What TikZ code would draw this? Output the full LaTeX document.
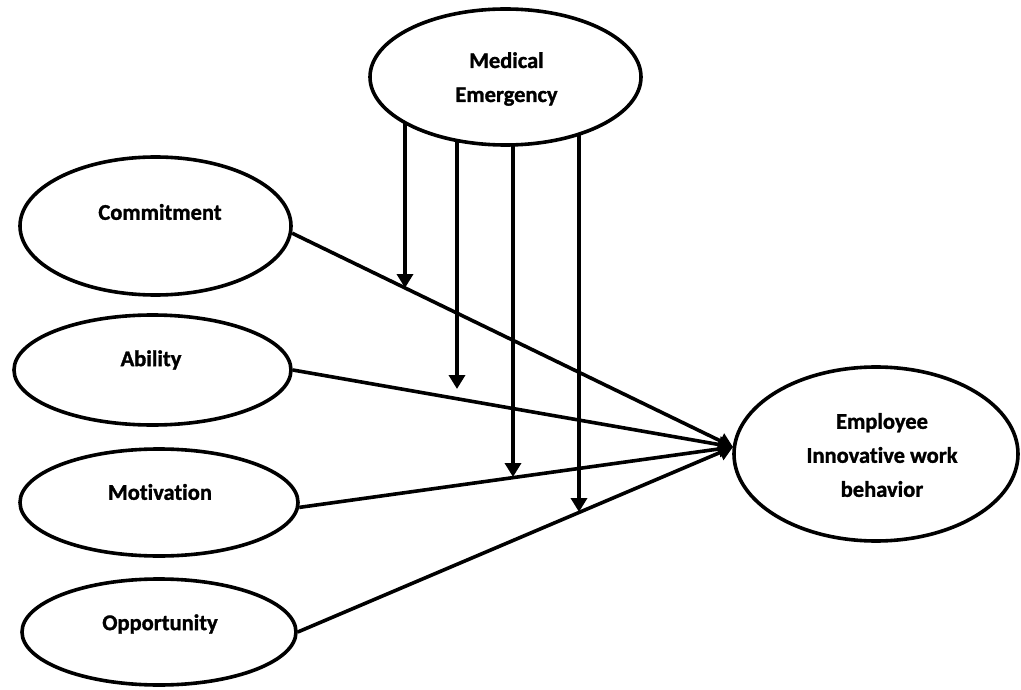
\documentclass[tikz,border=0pt]{standalone}
\usepackage{fontspec}
\setmainfont{Carlito}[Ligatures={NoCommon},BoldFeatures={FakeBold=1.3}]
\usetikzlibrary{arrows.meta,shapes.geometric,backgrounds}
\begin{document}
\begin{tikzpicture}[x=1pt,y=-1pt,
  ell/.style={draw,ellipse,line width=3.6pt,fill=white,inner sep=0pt},
  lbl/.style={font=\fontsize{22.5}{34}\selectfont\bfseries,align=center,inner sep=0pt},
  arr/.style={line width=3.6pt,-{Triangle[width=16pt,length=14pt]}}]
\useasboundingbox (0,0) rectangle (1021,690);
% ellipses
\node[ell,minimum width=271pt,minimum height=136pt] (me) at (505.5,77) {};
\node[ell,minimum width=271pt,minimum height=138pt] (com) at (155.5,226) {};
\node[ell,minimum width=277pt,minimum height=110pt] (abi) at (152.5,370) {};
\node[ell,minimum width=278pt,minimum height=107pt] (mot) at (159,502.5) {};
\node[ell,minimum width=274pt,minimum height=106pt] (opp) at (159,632) {};
\node[ell,minimum width=284pt,minimum height=174pt] (emp) at (876,454) {};
% labels
\node[lbl] (meT) at (506.5,79) {Medical\\Emergency};
\node[lbl] (comT) at (160,212) {Commitment};
\node[lbl] (abiT) at (151,360) {Ability};
\node[lbl] (motT) at (160,492) {Motivation};
\node[lbl] (oppT) at (160,624) {Opportunity};
\node[lbl] (empT) at (882,455) {Employee\\Innovative work\\behavior};
% targets
\coordinate (tip) at (733,447);
\coordinate (t1) at (405,288);
\coordinate (t2) at (457,389);
\coordinate (t3) at (513,477);
\coordinate (t4) at (579,512);
% paths to outcome
\draw[arr] (com.-3) -- (tip);
\draw[arr] (abi.east) -- (tip);
\draw[arr] (mot.-2) -- (tip);
\draw[arr] (opp.east) -- (tip);
% moderator arrows
\begin{scope}[on background layer]
\draw[arr] (me.center -| t1) -- (t1);
\draw[arr] (me.center -| t2) -- (t2);
\draw[arr] (me.center -| t3) -- (t3);
\draw[arr] (me.center -| t4) -- (t4);
\end{scope}
\end{tikzpicture}
\end{document}
